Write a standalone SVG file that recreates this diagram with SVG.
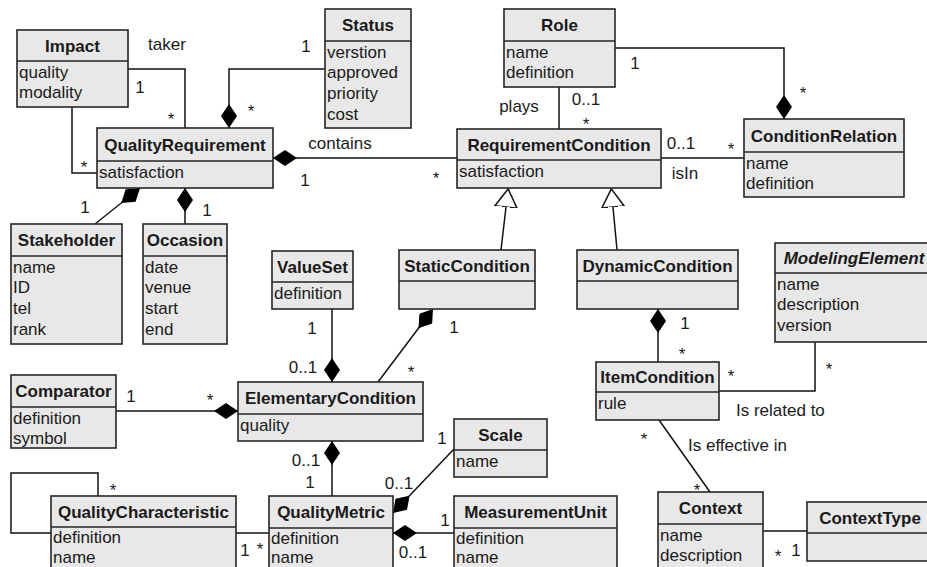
<svg xmlns="http://www.w3.org/2000/svg" width="927" height="567" viewBox="0 0 927 567">
<style>
.box{fill:#e8e8e8;stroke:#262626;stroke-width:1.6}
.div{stroke:#262626;stroke-width:1.6}
text{font-family:"Liberation Sans",Arial,sans-serif;font-size:17px;fill:#1a1a1a}
.t{font-weight:bold;text-anchor:middle}
.it{font-style:italic}
.c{text-anchor:middle}
.ln{fill:none;stroke:#111;stroke-width:1.5}
</style>
<defs>
<marker id="dia" viewBox="0 0 24 16" refX="0" refY="8" markerWidth="24" markerHeight="16" markerUnits="userSpaceOnUse" orient="auto">
<path d="M0,8 L12,0 L24,8 L12,16 Z" fill="#000"/>
</marker>
<marker id="tri" viewBox="0 0 19 24" refX="0" refY="12" markerWidth="19" markerHeight="24" markerUnits="userSpaceOnUse" orient="auto">
<path d="M0,0.8 L18.2,12 L0,23.2 Z" fill="#fff" stroke="#111" stroke-width="1.5"/>
</marker>
</defs>

<g id="connectors">
<path class="ln" d="M128,69 H185 V128"/>
<path class="ln" d="M72,107 V173 H97"/>
<path class="ln" marker-start="url(#dia)" d="M229,128 V69 H325"/>
<path class="ln" marker-start="url(#dia)" d="M784,119 V48 H615"/>
<path class="ln" d="M559,87 V129"/>
<path class="ln" marker-start="url(#dia)" d="M273,158 H457"/>
<path class="ln" d="M661,158 H744"/>
<path class="ln" marker-start="url(#dia)" d="M140,188 L95,224"/>
<path class="ln" marker-start="url(#dia)" d="M185,188 V224"/>
<path class="ln" marker-end="url(#tri)" d="M501,250 L506,207"/>
<path class="ln" marker-end="url(#tri)" d="M617,250 L613,207"/>
<path class="ln" marker-start="url(#dia)" d="M658,309 V362"/>
<path class="ln" d="M815,342 V391 H719"/>
<path class="ln" d="M659,420 L710,492"/>
<path class="ln" d="M763,531 H807"/>
<path class="ln" marker-start="url(#dia)" d="M332,382 V309"/>
<path class="ln" marker-start="url(#dia)" d="M433,309 L378,382"/>
<path class="ln" marker-start="url(#dia)" d="M238,411 H116"/>
<path class="ln" marker-start="url(#dia)" d="M332,441 V496"/>
<path class="ln" marker-start="url(#dia)" d="M393,513 L454,449"/>
<path class="ln" marker-start="url(#dia)" d="M393,533 H454"/>
<path class="ln" d="M236,533 H269"/>
<path class="ln" d="M51,533 H11 V473 H98 V496"/>
</g>

<g id="labels">
<text class="c" x="167" y="50">taker</text>
<text class="c" x="140" y="93">1</text>
<text class="c" x="171" y="125">*</text>
<text class="c" x="84" y="173">*</text>
<text class="c" x="306" y="52">1</text>
<text class="c" x="251" y="117">*</text>
<text class="c" x="635" y="69">1</text>
<text class="c" x="803" y="99">*</text>
<text class="c" x="519" y="112">plays</text>
<text class="c" x="586" y="105">0..1</text>
<text class="c" x="586" y="130">*</text>
<text class="c" x="340" y="149">contains</text>
<text class="c" x="305" y="186">1</text>
<text class="c" x="436" y="184">*</text>
<text class="c" x="681" y="149">0..1</text>
<text class="c" x="685" y="179">isIn</text>
<text class="c" x="731" y="155">*</text>
<text class="c" x="85" y="213">1</text>
<text class="c" x="207" y="216">1</text>
<text class="c" x="454" y="333">1</text>
<text class="c" x="411" y="378">*</text>
<text class="c" x="312" y="334">1</text>
<text class="c" x="303" y="373">0..1</text>
<text class="c" x="685" y="329">1</text>
<text class="c" x="682" y="360">*</text>
<text class="c" x="731" y="382">*</text>
<text class="c" x="829" y="375">*</text>
<text x="736" y="416">Is related to</text>
<text class="c" x="644" y="445">*</text>
<text x="688" y="451">Is effective in</text>
<text class="c" x="697" y="496">*</text>
<text class="c" x="778" y="562">*</text>
<text class="c" x="796" y="556">1</text>
<text class="c" x="131" y="402">1</text>
<text class="c" x="210" y="406">*</text>
<text class="c" x="306" y="466">0..1</text>
<text class="c" x="310" y="488">1</text>
<text class="c" x="442" y="444">1</text>
<text class="c" x="399" y="489">0..1</text>
<text class="c" x="445" y="526">1</text>
<text class="c" x="413" y="558">0..1</text>
<text class="c" x="245" y="556">1</text>
<text class="c" x="260" y="555">*</text>
<text class="c" x="113" y="496">*</text>
</g>

<g id="Impact">
<rect class="box" x="17" y="30" width="111" height="77"/>
<line class="div" x1="17" y1="61" x2="128" y2="61"/>
<text class="t" x="72.5" y="51.5">Impact</text>
<text x="19" y="77.5">quality</text>
<text x="19" y="98.3">modality</text>
</g>

<g id="QualityRequirement">
<rect class="box" x="97" y="128" width="176" height="60"/>
<line class="div" x1="97" y1="161" x2="273" y2="161"/>
<text class="t" x="185" y="150.5">QualityRequirement</text>
<text x="99" y="177.5">satisfaction</text>
</g>

<g id="Status">
<rect class="box" x="325" y="9" width="86" height="119"/>
<line class="div" x1="325" y1="41" x2="411" y2="41"/>
<text class="t" x="368" y="31">Status</text>
<text x="327" y="57.5">verstion</text>
<text x="327" y="78.3">approved</text>
<text x="327" y="99.1">priority</text>
<text x="327" y="119.9">cost</text>
</g>

<g id="Role">
<rect class="box" x="504" y="9" width="111" height="78"/>
<line class="div" x1="504" y1="41" x2="615" y2="41"/>
<text class="t" x="559.5" y="31">Role</text>
<text x="506" y="57.5">name</text>
<text x="506" y="78.3">definition</text>
</g>

<g id="RequirementCondition">
<rect class="box" x="457" y="129" width="204" height="59"/>
<line class="div" x1="457" y1="160" x2="661" y2="160"/>
<text class="t" x="559" y="150.5">RequirementCondition</text>
<text x="459" y="176.5">satisfaction</text>
</g>

<g id="ConditionRelation">
<rect class="box" x="744" y="119" width="160" height="78"/>
<line class="div" x1="744" y1="152" x2="904" y2="152"/>
<text class="t" x="824" y="141.5">ConditionRelation</text>
<text x="746" y="168.5">name</text>
<text x="746" y="189.3">definition</text>
</g>

<g id="Stakeholder">
<rect class="box" x="11" y="224" width="111" height="120"/>
<line class="div" x1="11" y1="256" x2="122" y2="256"/>
<text class="t" x="66.5" y="246">Stakeholder</text>
<text x="13" y="272.5">name</text>
<text x="13" y="293.3">ID</text>
<text x="13" y="314.1">tel</text>
<text x="13" y="334.9">rank</text>
</g>

<g id="Occasion">
<rect class="box" x="143" y="224" width="84" height="120"/>
<line class="div" x1="143" y1="256" x2="227" y2="256"/>
<text class="t" x="185" y="246">Occasion</text>
<text x="145" y="272.5">date</text>
<text x="145" y="293.3">venue</text>
<text x="145" y="314.1">start</text>
<text x="145" y="334.9">end</text>
</g>

<g id="ValueSet">
<rect class="box" x="272" y="251" width="81" height="58"/>
<line class="div" x1="272" y1="282" x2="353" y2="282"/>
<text class="t" x="312.5" y="272.5">ValueSet</text>
<text x="274" y="298.5">definition</text>
</g>

<g id="StaticCondition">
<rect class="box" x="399" y="250" width="136" height="59"/>
<line class="div" x1="399" y1="281" x2="535" y2="281"/>
<text class="t" x="467" y="271.5">StaticCondition</text>
</g>

<g id="DynamicCondition">
<rect class="box" x="577" y="250" width="161" height="59"/>
<line class="div" x1="577" y1="281" x2="738" y2="281"/>
<text class="t" x="657.5" y="271.5">DynamicCondition</text>
</g>

<g id="ModelingElement">
<rect class="box" x="775" y="243" width="158" height="99"/>
<line class="div" x1="775" y1="273" x2="933" y2="273"/>
<text class="t it" x="854" y="264">ModelingElement</text>
<text x="777" y="289.5">name</text>
<text x="777" y="310.3">description</text>
<text x="777" y="331.1">version</text>
</g>

<g id="ItemCondition">
<rect class="box" x="596" y="362" width="123" height="58"/>
<line class="div" x1="596" y1="392" x2="719" y2="392"/>
<text class="t" x="657.5" y="383">ItemCondition</text>
<text x="598" y="408.5">rule</text>
</g>

<g id="ElementaryCondition">
<rect class="box" x="238" y="382" width="185" height="59"/>
<line class="div" x1="238" y1="414" x2="423" y2="414"/>
<text class="t" x="330.5" y="404">ElementaryCondition</text>
<text x="240" y="430.5">quality</text>
</g>

<g id="Comparator">
<rect class="box" x="11" y="375" width="105" height="73"/>
<line class="div" x1="11" y1="407" x2="116" y2="407"/>
<text class="t" x="63.5" y="397">Comparator</text>
<text x="13" y="423.5">definition</text>
<text x="13" y="444.3">symbol</text>
</g>

<g id="QualityCharacteristic">
<rect class="box" x="51" y="496" width="185" height="80"/>
<line class="div" x1="51" y1="527" x2="236" y2="527"/>
<text class="t" x="143.5" y="517.5">QualityCharacteristic</text>
<text x="53" y="543">definition</text>
<text x="53" y="563">name</text>
</g>

<g id="QualityMetric">
<rect class="box" x="269" y="496" width="124" height="80"/>
<line class="div" x1="269" y1="528" x2="393" y2="528"/>
<text class="t" x="331" y="518">QualityMetric</text>
<text x="271" y="543.5">definition</text>
<text x="271" y="563">name</text>
</g>

<g id="Scale">
<rect class="box" x="454" y="419" width="93" height="58"/>
<line class="div" x1="454" y1="450" x2="547" y2="450"/>
<text class="t" x="500.5" y="440.5">Scale</text>
<text x="456" y="466.5">name</text>
</g>

<g id="MeasurementUnit">
<rect class="box" x="454" y="496" width="163" height="80"/>
<line class="div" x1="454" y1="528" x2="617" y2="528"/>
<text class="t" x="535.5" y="518">MeasurementUnit</text>
<text x="456" y="543.5">definition</text>
<text x="456" y="563">name</text>
</g>

<g id="Context">
<rect class="box" x="658" y="492" width="105" height="85"/>
<line class="div" x1="658" y1="524" x2="763" y2="524"/>
<text class="t" x="710.5" y="514">Context</text>
<text x="660" y="540.5">name</text>
<text x="660" y="561">description</text>
</g>

<g id="ContextType">
<rect class="box" x="807" y="502" width="126" height="59"/>
<line class="div" x1="807" y1="533" x2="933" y2="533"/>
<text class="t" x="870" y="523.5">ContextType</text>
</g>
</svg>
